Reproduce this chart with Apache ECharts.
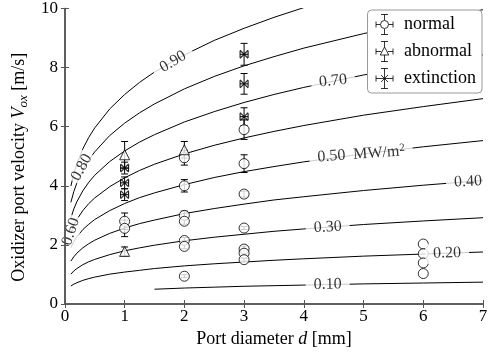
<!DOCTYPE html>
<html><head><meta charset="utf-8">
<script src="https://cdn.jsdelivr.net/npm/echarts@6/dist/echarts.min.js"></script>
<style>html,body{margin:0;padding:0;background:#fff}#c{width:491px;height:356px}</style>
</head><body><div id="c"></div>
<script>
// ---- data ----
// contour lines of heat flux (MW/m^2): V values at these port diameters
const dGrid = [0.1, 0.15, 0.2, 0.3, 0.4, 0.5, 0.75, 1, 1.25, 1.5, 2, 2.5, 3, 3.5, 4, 5, 6, 7];
const q010 = [null, null, null, null, null, null, null, null, null, 0.50, 0.54, 0.57, 0.60, 0.62, 0.64, 0.68, 0.71, 0.74];
const q020 = [0.61, 0.67, 0.72, 0.80, 0.86, 0.91, 1.01, 1.08, 1.14, 1.20, 1.29, 1.36, 1.42, 1.48, 1.53, 1.62, 1.69, 1.76];
const q030 = [1.01, 1.12, 1.20, 1.33, 1.43, 1.51, 1.67, 1.80, 1.90, 1.99, 2.14, 2.26, 2.36, 2.46, 2.54, 2.69, 2.81, 2.92];
const q040 = [1.45, 1.60, 1.72, 1.90, 2.04, 2.16, 2.39, 2.57, 2.72, 2.84, 3.06, 3.23, 3.38, 3.52, 3.63, 3.84, 4.02, 4.18];
const q050 = [1.91, 2.12, 2.27, 2.52, 2.70, 2.86, 3.16, 3.40, 3.60, 3.76, 4.04, 4.28, 4.48, 4.65, 4.81, 5.08, 5.32, 5.53];
const q060 = [2.40, 2.66, 2.86, 3.16, 3.40, 3.59, 3.97, 4.27, 4.52, 4.73, 5.08, 5.37, 5.62, 5.84, 6.04, 6.39, 6.68, 6.95];
const q070 = [2.91, 3.22, 3.46, 3.83, 4.12, 4.36, 4.82, 5.18, 5.48, 5.73, 6.16, 6.51, 6.82, 7.09, 7.33, 7.75, 8.11, 8.43];
const q080 = [3.44, 3.81, 4.09, 4.53, 4.87, 5.15, 5.70, 6.12, 6.47, 6.77, 7.28, 7.70, 8.06, 8.37, 8.66, 9.15, 9.58, 9.96];
const q090 = [3.99, 4.41, 4.74, 5.25, 5.64, 5.96, 6.60, 7.09, 7.50, 7.85, 8.43, 8.92, 9.33, 9.70, 10.03, null, null, null];
const contours = [q010, q020, q030, q040, q050, q060, q070, q080, q090];

// contour labels: [text, d, V]
const contourLabels = [
  ['0.90', 1.81, 8.2], ['0.80', 0.28, 4.62], ['0.70', 4.49, 7.55], ['0.60', 0.10, 2.45],
  ['0.50', 4.96, 5.07], ['0.40', 6.75, 4.14], ['0.30', 4.40, 2.60], ['0.20', 6.40, 1.72], ['0.10', 4.40, 0.66]
];
const labelRotation = {'0.90': 31, '0.80': 62, '0.70': 6, '0.60': 72, '0.50': 4, '0.40': 3, '0.30': 3, '0.20': 2, '0.10': 1};

// measurements: [d (mm), V (m/s), error]
const normal = [
  [1, 2.80, 0.28], [1, 2.56, 0.28],
  [2, 4.95, 0.25], [2, 4.00, 0.21], [2, 3.00, 0.14], [2, 2.80, 0.10], [2, 2.15, 0.10], [2, 1.95, 0.08], [2, 0.94, 0.05],
  [3, 5.90, 0.33], [3, 4.75, 0.30], [3, 3.72, 0.10], [3, 2.57, 0.05], [3, 1.86, 0.10], [3, 1.72, 0.08], [3, 1.50, 0.05],
  [6, 2.03, 0], [6, 1.70, 0], [6, 1.39, 0], [6, 1.03, 0]
];
const abnormal = [[1, 5.05, 0.45], [1, 1.78, 0.15], [2, 5.22, 0.28]];
const extinction = [[1, 4.60, 0.20], [1, 4.10, 0.20], [1, 3.70, 0.20], [3, 8.45, 0.37], [3, 7.45, 0.35], [3, 6.34, 0.30]];

const xMin = 0, xMax = 7, xStep = 1;
const yMin = 0, yMax = 10, yStep = 2;

// ---- chart ----
const serif = '"Liberation Serif", "Times New Roman", serif';
const frame = '#555';

function errSeries(pts, hw) {
  return {
    type: 'custom', silent: true, z: 3, clip: false,
    data: pts,
    renderItem: function (params, api) {
      const d = api.value(0), v = api.value(1), e = api.value(2);
      const c = api.coord([d, v]);
      const st = {stroke: '#000', lineWidth: 1, fill: null};
      const ch = [];
      const ln = (x1, y1, x2, y2) => ch.push({type: 'line', shape: {x1, y1, x2, y2}, style: st});
      if (e > 0) {
        const t = api.coord([d, v + e]), b = api.coord([d, v - e]);
        ln(c[0], t[1], c[0], b[1]);
        ln(c[0] - 3.5, t[1], c[0] + 3.5, t[1]);
        ln(c[0] - 3.5, b[1], c[0] + 3.5, b[1]);
      }
      if (hw > 0) {
        ln(c[0] - hw, c[1], c[0] + hw, c[1]);
        ln(c[0] - hw, c[1] - 3.5, c[0] - hw, c[1] + 3.5);
        ln(c[0] + hw, c[1] - 3.5, c[0] + hw, c[1] + 3.5);
      }
      return {type: 'group', children: ch};
    }
  };
}

const series = [];
contours.forEach(vals => {
  series.push({
    type: 'line', silent: true, showSymbol: false, symbol: 'none', z: 1,
    smooth: false, clip: true,
    lineStyle: {color: '#000', width: 1},
    data: dGrid.map((d, i) => [d, vals[i]]).filter(p => p[1] !== null)
  });
});
series.push({
  type: 'scatter', silent: true, symbolSize: 0, z: 6,
  data: contourLabels.map(l => ({
    name: l[0], value: [l[1], l[2]],
    label: {rotate: labelRotation[l[0]], padding: (l[0] === '0.60' || l[0] === '0.80') ? [0, 2] : [1, 8]}
  })),
  label: {
    show: true, position: 'inside', color: '#000', fontFamily: serif, fontSize: 16,
    backgroundColor: '#fff', lineHeight: 18,
    formatter: p => p.name === '0.50' ? '0.50  MW/m{sup|2}' : p.name,
    rich: {sup: {fontFamily: serif, fontSize: 11, verticalAlign: 'top', lineHeight: 11, color: '#000'}}
  }
});
series.push(errSeries(normal, 0));
series.push(errSeries(abnormal, 0));
series.push(errSeries(extinction, 4));
const mk = {color: '#fff', borderColor: '#000', borderWidth: 1};
series.push({name: 'normal', type: 'scatter', symbol: 'circle', symbolSize: 10, z: 4, itemStyle: mk,
  data: normal.map(p => [p[0], p[1]])});
series.push({name: 'abnormal', type: 'scatter', symbol: 'triangle', symbolSize: 10, z: 4, itemStyle: mk,
  data: abnormal.map(p => [p[0], p[1]])});
series.push({name: 'extinction', type: 'scatter', symbol: 'path://M0,0L10,10M10,0L0,10', symbolSize: 8, z: 4,
  itemStyle: {color: 'none', borderColor: '#000', borderWidth: 1.3},
  data: extinction.map(p => [p[0], p[1]])});

const bars = 'M8.5,0L8.5,5.5M5,0L12,0M8.5,14.5L8.5,20M5,20L12,20M0,10L4.3,10M12.7,10L17,10M0,7L0,13M17,7L17,13';
const iconNormal = 'path://' + bars + 'M12.5,10A4,4 0 1 1 4.5,10A4,4 0 1 1 12.5,10Z';
const iconAbn = 'path://M8.5,0L8.5,5.5M5,0L12,0M8.5,13.5L8.5,20M5,20L12,20M0,10L5.2,10M11.8,10L17,10M0,7L0,13M17,7L17,13M8.5,5.5L12.8,13.5L4.2,13.5Z';
const iconExt = 'path://M8.5,0L8.5,20M5,0L12,0M5,20L12,20M0,10L17,10M0,7L0,13M17,7L17,13M5,6.5L12,13.5M12,6.5L5,13.5';
const legStyle = {color: '#fff', borderColor: '#000', borderWidth: 1};

const axisCommon = {
  axisLine: {show: true, lineStyle: {color: frame, width: 1.5}},
  axisTick: {show: true, inside: true, length: 4, lineStyle: {color: frame, width: 1}},
  splitLine: {show: false},
  axisLabel: {color: '#000', fontFamily: serif, fontSize: 17},
  z: 8
};

const option = {
  animation: false,
  backgroundColor: '#fff',
  grid: {left: 61, right: 8, top: 8, bottom: 52, containLabel: false},
  legend: {
    orient: 'vertical', right: 9, top: 10,
    backgroundColor: '#fff', borderColor: '#999', borderWidth: 1, borderRadius: 4,
    padding: [4, 6, 4, 8], itemGap: 6, itemWidth: 17, itemHeight: 20,
    textStyle: {fontFamily: serif, fontSize: 18, color: '#000', padding: [0, 0, 0, 6]},
    data: [
      {name: 'normal', icon: iconNormal, itemStyle: legStyle},
      {name: 'abnormal', icon: iconAbn, itemStyle: legStyle},
      {name: 'extinction', icon: iconExt, itemStyle: legStyle}
    ],
    z: 10
  },
  xAxis: [
    Object.assign({}, axisCommon, {
      type: 'value', min: xMin, max: xMax, interval: xStep, position: 'bottom',
      axisLabel: Object.assign({}, axisCommon.axisLabel, {margin: 4}),
      name: 'Port diameter {i|d} [mm]', nameLocation: 'middle', nameGap: 18,
      nameTextStyle: {fontFamily: serif, fontSize: 18, color: '#000',
        rich: {i: {fontFamily: serif, fontSize: 18, fontStyle: 'italic', color: '#000'}}}
    }),
    Object.assign({}, axisCommon, {
      type: 'value', min: xMin, max: xMax, interval: xStep, position: 'top',
      axisLabel: {show: false}
    })
  ],
  yAxis: [
    Object.assign({}, axisCommon, {
      type: 'value', min: yMin, max: yMax, interval: yStep, position: 'left',
      axisLabel: Object.assign({}, axisCommon.axisLabel, {margin: 7}),
      name: 'Oxidizer port velocity {i|V}{sub|ox} [m/s]', nameLocation: 'middle', nameGap: 30,
      nameTextStyle: {fontFamily: serif, fontSize: 18, color: '#000', lineHeight: 22, padding: [0, 22, 0, 0],
        rich: {
          i: {fontFamily: serif, fontSize: 18, fontStyle: 'italic', color: '#000', lineHeight: 22},
          sub: {fontFamily: serif, fontSize: 13, fontStyle: 'italic', color: '#000', verticalAlign: 'bottom', lineHeight: 14}
        }}
    }),
    Object.assign({}, axisCommon, {
      type: 'value', min: yMin, max: yMax, interval: yStep, position: 'right',
      axisLabel: {show: false}
    })
  ],
  series: series
};

const chart = echarts.init(document.getElementById('c'), null, {renderer: 'canvas'});
chart.setOption(option);
</script>
</body></html>
